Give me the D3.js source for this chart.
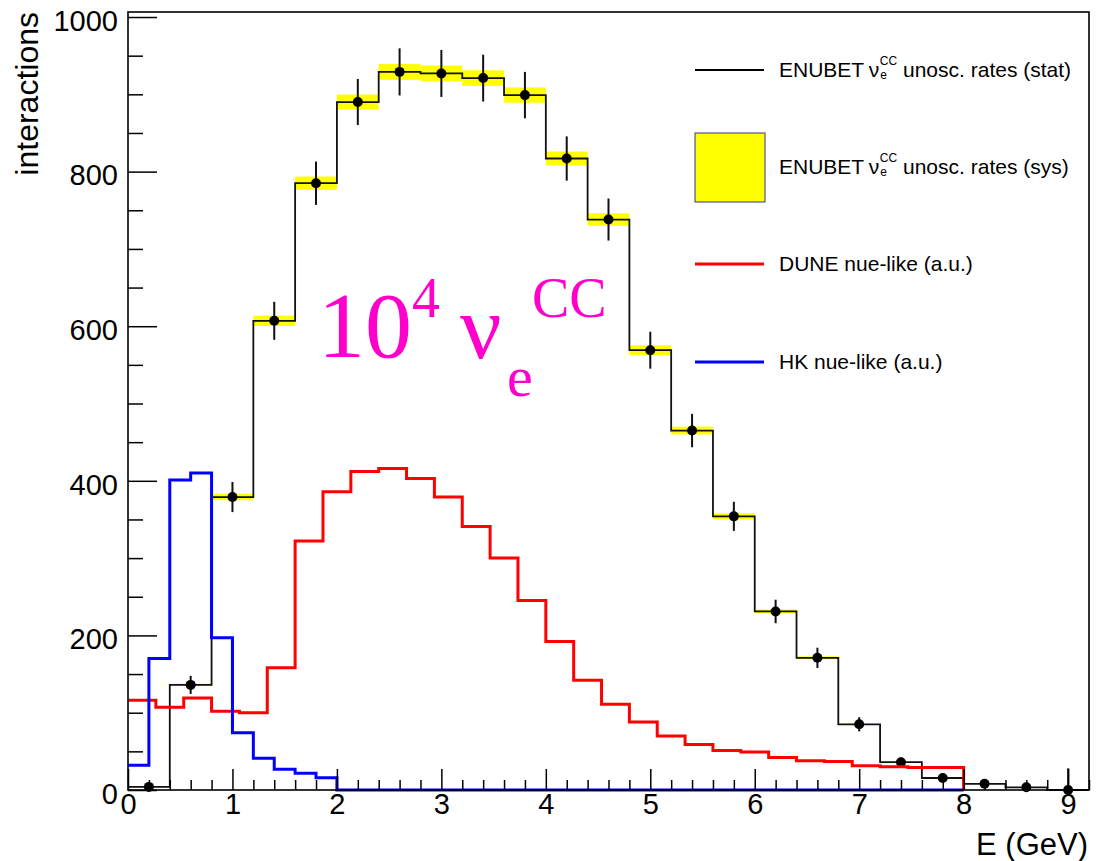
<!DOCTYPE html>
<html>
<head>
<meta charset="utf-8">
<script src="https://cdn.jsdelivr.net/npm/d3@7"></script>
<style>
body { margin: 0; background: #fff; }
svg { display: block; font-family: "Liberation Sans", Arial, Helvetica, sans-serif; }
</style>
</head>
<body>
<svg id="chart" width="1101" height="861"></svg>
<script>
// ENUBET nue CC rates, 23 bins of 0.4 GeV from 0 to 9.2
const enubetRange = [0, 9.2]
const enubetRates = [4, 136, 379, 607, 785, 890, 929, 927, 921, 899, 817, 738, 569, 465, 354, 231, 171, 85, 36, 15.5, 8, 3.5, 0]
const enubetStat = [2, 11.7, 19.5, 24.6, 28, 29.8, 30.5, 30.4, 30.3, 30, 28.6, 27.2, 23.9, 21.6, 18.8, 15.2, 13.1, 9.2, 6, 3.9, 2.8, 1.9, 28]
const enubetSys = [0.05, 1.5, 4.2, 6.7, 8.6, 9.8, 10.2, 10.2, 10.1, 9.9, 9.0, 8.1, 6.3, 5.1, 3.9, 2.5, 1.9, 0.9, 0.4, 0.2, 0.1, 0.04, 0]

// DUNE nue-like, 30 bins from 0 to 8 GeV
const duneRange = [0, 8]
const duneRates = [116, 107, 119, 102, 100, 158, 322, 386, 412, 416, 403, 379, 341, 300, 245, 192, 142, 111, 88, 70, 59, 51, 49, 42, 38, 37, 31.5, 30, 29, 29]

// HK nue-like, 40 bins from 0 to 8 GeV
const hkRange = [0, 8]
const hkRates = [32, 170, 401, 410, 197, 74, 41, 27, 21.6, 16,
    0, 0, 0, 0, 0, 0, 0, 0, 0, 0,
    0, 0, 0, 0, 0, 0, 0, 0, 0, 0,
    0, 0, 0, 0, 0, 0, 0, 0, 0, 0]

const xTicks = [0, 1, 2, 3, 4, 5, 6, 7, 8, 9]
const yTicks = [0, 200, 400, 600, 800, 1000]

const legendLabels = [
    {pre: "ENUBET ", nu: "\u03bd", sub: "e", sup: "CC", post: " unosc. rates (stat)"},
    {pre: "ENUBET ", nu: "\u03bd", sub: "e", sup: "CC", post: " unosc. rates (sys)"},
    {pre: "DUNE nue-like (a.u.)"},
    {pre: "HK nue-like (a.u.)"}
]

const svg = d3.select("#chart")

let x = d3.scaleLinear().domain([0, 9.2]).range([128, 1089]),
    y = d3.scaleLinear().domain([0, 1006.5]).range([790, 12]);

const binsOf = (values, range) => {
    let w = (range[1] - range[0]) / values.length
    return values.map((v, i) => ({lo: range[0] + i * w, hi: range[0] + (i + 1) * w, mid: range[0] + (i + 0.5) * w, v}))
}

const stepPoints = bins => {
    let pts = []
    bins.forEach(b => { pts.push([b.lo, b.v]); pts.push([b.hi, b.v]) })
    pts.push([bins[bins.length - 1].hi, 0])
    return pts
}

const line = d3.line().x(d => x(d[0])).y(d => y(d[1]))

let enubet = binsOf(enubetRates, enubetRange)
enubet.forEach((b, i) => { b.stat = enubetStat[i]; b.sys = enubetSys[i] })

// systematic band (yellow boxes)
svg.append("g").selectAll("rect")
    .data(enubet)
    .enter()
    .append("rect")
    .attr("x", d => x(d.lo))
    .attr("width", d => x(d.hi) - x(d.lo))
    .attr("y", d => y(d.v + d.sys))
    .attr("height", d => Math.max(0, y(d.v - d.sys) - y(d.v + d.sys)))
    .attr("fill", "#ffff00")

// histogram line
svg.append("path")
    .attr("d", line(stepPoints(enubet)))
    .attr("fill", "none")
    .attr("stroke", "#111")
    .attr("stroke-width", 1.8)

// stat error bars + markers
let pts = svg.append("g")
pts.selectAll("line")
    .data(enubet)
    .enter()
    .append("line")
    .attr("x1", d => x(d.mid))
    .attr("x2", d => x(d.mid))
    .attr("y1", d => y(d.v + d.stat))
    .attr("y2", d => Math.min(790, y(d.v - d.stat)))
    .attr("stroke", "#111")
    .attr("stroke-width", 2)
pts.selectAll("circle")
    .data(enubet)
    .enter()
    .append("circle")
    .attr("cx", d => x(d.mid))
    .attr("cy", d => y(d.v))
    .attr("r", 5)
    .attr("fill", "#000")

// DUNE and HK
svg.append("path")
    .attr("d", line(stepPoints(binsOf(duneRates, duneRange))))
    .attr("fill", "none")
    .attr("stroke", "#ff0000")
    .attr("stroke-width", 3)

svg.append("path")
    .attr("d", line(stepPoints(binsOf(hkRates, hkRange))))
    .attr("fill", "none")
    .attr("stroke", "#0000ff")
    .attr("stroke-width", 3)

// frame
svg.append("rect")
    .attr("x", 128).attr("y", 12)
    .attr("width", 1089 - 128).attr("height", 790 - 12)
    .attr("fill", "none")
    .attr("stroke", "#000")
    .attr("stroke-width", 1.6)

// axes
let xMinor = d3.range(0, 47).map(i => +(i * 0.2).toFixed(1)).filter(v => !xTicks.includes(v))
let yMinor = d3.range(0, 21).map(i => i * 50).filter(v => !yTicks.includes(v))

let gx = svg.append("g")
    .attr("transform", "translate(0,790)")
    .call(d3.axisBottom(x).tickValues(xTicks).tickSize(-21).tickPadding(3).tickFormat(d3.format("d")))
gx.append("g").call(d3.axisBottom(x).tickValues(xMinor).tickSize(-10).tickFormat(""))

let gy = svg.append("g")
    .attr("transform", "translate(128,0)")
    .call(d3.axisLeft(y).tickValues(yTicks).tickSize(-29).tickPadding(10).tickFormat(d3.format("d")))
gy.append("g").call(d3.axisLeft(y).tickValues(yMinor).tickSize(-15).tickFormat(""))

svg.selectAll(".domain").remove()
svg.selectAll(".tick line").attr("stroke", "#000").attr("stroke-width", 1.5)
svg.selectAll(".tick text")
    .attr("font-family", "Liberation Sans, Arial, sans-serif")
    .attr("font-size", "29px")
    .attr("fill", "#000")
gy.selectAll(".tick text").attr("dy", "0.46em")

// axis titles
svg.append("text")
    .attr("x", 1088).attr("y", 855)
    .attr("text-anchor", "end")
    .attr("font-size", "31px")
    .text("E (GeV)")

svg.append("text")
    .attr("transform", "rotate(-90)")
    .attr("x", -12).attr("y", 38)
    .attr("text-anchor", "end")
    .attr("font-size", "32px")
    .text("interactions")

// legend
const legendY = [70, 167, 264, 362]
let lg = svg.append("g")
lg.append("line").attr("x1", 695).attr("x2", 764).attr("y1", legendY[0]).attr("y2", legendY[0])
    .attr("stroke", "#000").attr("stroke-width", 2)
lg.append("rect").attr("x", 695).attr("y", 133).attr("width", 70).attr("height", 69)
    .attr("fill", "#ffff00").attr("stroke", "#333399").attr("stroke-width", 1)
lg.append("line").attr("x1", 695).attr("x2", 764).attr("y1", legendY[2]).attr("y2", legendY[2])
    .attr("stroke", "#ff0000").attr("stroke-width", 3)
lg.append("line").attr("x1", 695).attr("x2", 764).attr("y1", legendY[3]).attr("y2", legendY[3])
    .attr("stroke", "#0000ff").attr("stroke-width", 3)

legendLabels.forEach((l, i) => {
    let t = lg.append("text")
        .attr("x", 779).attr("y", legendY[i] + 7)
        .attr("font-size", "21px")
        .attr("fill", "#000")
    t.append("tspan").text(l.pre)
    if (l.sub) {
        t.append("tspan").attr("dx", -1).text(l.nu)
        t.append("tspan").attr("font-size", "12px").attr("dx", 1).attr("dy", 2).text(l.sub)
        t.append("tspan").attr("font-size", "12px").attr("dx", -7).attr("dy", -14.5).text(l.sup)
        t.append("tspan").attr("dy", 12.5).attr("dx", 0).text(l.post)
    }
})

// big annotation
let ann = svg.append("text")
    .attr("font-family", "Liberation Serif, Times New Roman, serif")
    .attr("fill", "#ff00cc")
ann.append("tspan").attr("x", 318).attr("y", 357).attr("font-size", "94px").text("10")
ann.append("tspan").attr("x", 412).attr("y", 317).attr("font-size", "56px").text("4")
ann.append("tspan").attr("x", 460).attr("y", 358).attr("font-size", "92px").text("\u03bd")
ann.append("tspan").attr("x", 507).attr("y", 396).attr("font-size", "58px").text("e")
ann.append("tspan").attr("x", 532).attr("y", 317).attr("font-size", "56px").text("CC")
</script>
</body>
</html>
